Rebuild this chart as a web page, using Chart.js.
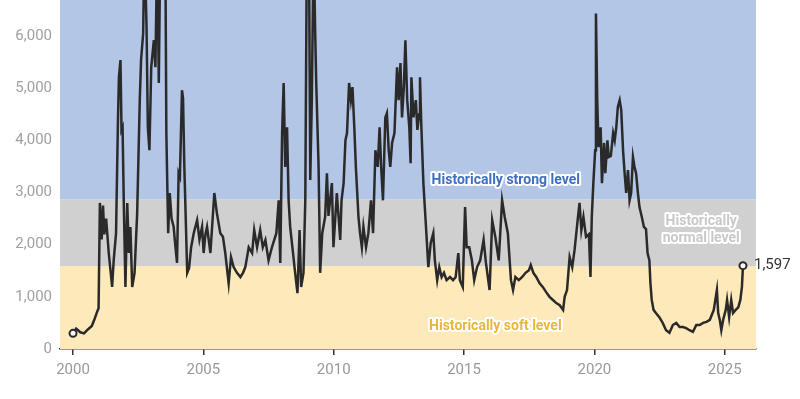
<!DOCTYPE html>
<html>
<head>
<meta charset="utf-8">
<script src="https://cdn.jsdelivr.net/npm/chart.js@4/dist/chart.umd.min.js"></script>
<style>
  html, body { margin: 0; padding: 0; background: #fff; }
  #wrap { width: 800px; height: 399px; }
</style>
</head>
<body>
<div id="wrap"><canvas id="chart"></canvas></div>
<script>
// Dados da série (ano decimal / valor do índice)
const years = [
  2000.00, 2000.12, 2000.28, 2000.42, 2000.58, 2000.72, 2000.83, 2000.93, 2000.98,
  2001.03, 2001.10, 2001.15, 2001.20, 2001.27, 2001.37, 2001.50, 2001.56, 2001.65, 2001.72,
  2001.76, 2001.82, 2001.86, 2001.90, 2001.95, 2002.01, 2002.08, 2002.14, 2002.20, 2002.27,
  2002.36, 2002.46, 2002.56, 2002.61, 2002.69, 2002.74, 2002.82, 2002.87, 2002.93, 2003.00,
  2003.10, 2003.16, 2003.23, 2003.29, 2003.35, 2003.45, 2003.54, 2003.58, 2003.65, 2003.71,
  2003.78, 2003.86, 2003.92, 2003.99, 2004.05, 2004.10, 2004.18, 2004.22, 2004.27, 2004.38,
  2004.45, 2004.53, 2004.63, 2004.76, 2004.85, 2004.95, 2005.01, 2005.08, 2005.14, 2005.27,
  2005.42, 2005.52, 2005.65, 2005.75, 2005.84, 2005.97, 2006.06, 2006.16, 2006.29, 2006.42,
  2006.52, 2006.61, 2006.74, 2006.87, 2006.95, 2007.06, 2007.18, 2007.28, 2007.38, 2007.50,
  2007.63, 2007.80, 2007.89, 2007.95, 2008.02, 2008.08, 2008.14, 2008.21, 2008.27, 2008.33,
  2008.44, 2008.52, 2008.61, 2008.69, 2008.75, 2008.84, 2008.91, 2008.97, 2009.05, 2009.10,
  2009.16, 2009.23, 2009.29, 2009.33, 2009.42, 2009.48, 2009.56, 2009.67, 2009.74, 2009.80,
  2009.93, 2009.99, 2010.12, 2010.25, 2010.30, 2010.38, 2010.45, 2010.51, 2010.59, 2010.66,
  2010.72, 2010.79, 2010.85, 2010.95, 2011.01, 2011.08, 2011.14, 2011.24, 2011.33, 2011.43,
  2011.51, 2011.60, 2011.69, 2011.76, 2011.82, 2011.89, 2011.98, 2012.04, 2012.11, 2012.17,
  2012.24, 2012.33, 2012.43, 2012.49, 2012.56, 2012.62, 2012.69, 2012.75, 2012.82, 2012.90,
  2012.95, 2012.98, 2013.06, 2013.15, 2013.21, 2013.28, 2013.31, 2013.36, 2013.44, 2013.54,
  2013.63, 2013.72, 2013.82, 2013.88, 2013.97, 2014.05, 2014.14, 2014.23, 2014.33, 2014.46,
  2014.58, 2014.68, 2014.78, 2014.84, 2014.95, 2015.04, 2015.10, 2015.20, 2015.30, 2015.39,
  2015.50, 2015.62, 2015.75, 2015.84, 2015.98, 2016.08, 2016.20, 2016.33, 2016.46, 2016.56,
  2016.68, 2016.80, 2016.88, 2016.97, 2017.10, 2017.23, 2017.36, 2017.49, 2017.56, 2017.66,
  2017.77, 2017.90, 2018.02, 2018.15, 2018.28, 2018.41, 2018.54, 2018.67, 2018.80, 2018.86,
  2018.95, 2019.05, 2019.15, 2019.24, 2019.37, 2019.43, 2019.50, 2019.58, 2019.68, 2019.79,
  2019.85, 2019.90, 2019.96, 2020.03, 2020.06, 2020.11, 2020.16, 2020.24, 2020.29, 2020.37,
  2020.42, 2020.50, 2020.55, 2020.63, 2020.72, 2020.78, 2020.84, 2020.90, 2020.97, 2021.03,
  2021.10, 2021.16, 2021.22, 2021.29, 2021.35, 2021.41, 2021.48, 2021.54, 2021.60, 2021.67,
  2021.73, 2021.82, 2021.90, 2021.98, 2022.04, 2022.11, 2022.15, 2022.20, 2022.27, 2022.36,
  2022.49, 2022.62, 2022.75, 2022.88, 2023.01, 2023.14, 2023.27, 2023.40, 2023.52, 2023.65,
  2023.78, 2023.91, 2024.04, 2024.17, 2024.30, 2024.43, 2024.58, 2024.64, 2024.70, 2024.75,
  2024.81, 2024.87, 2024.94, 2025.04, 2025.09, 2025.17, 2025.25, 2025.32, 2025.42, 2025.52,
  2025.60, 2025.66, 2025.70
];
const values = [
  300, 390, 320, 300, 380, 440, 580, 720, 780,
  2800, 2100, 2750, 2200, 2500, 1840, 1190, 1700, 2220, 4300,
  5210, 5540, 4200, 4250, 2720, 1190, 2800, 1840, 2340, 1190,
  1460, 2600, 4770, 5540, 6050, 7800, 6170, 4250, 3810, 5400,
  5920, 5400, 7800, 5100, 7800, 7800, 7800, 4140, 2220, 2990,
  2500, 2340, 2000, 1650, 3370, 3300, 4960, 4800, 3490, 1460,
  1550, 1950, 2220, 2470, 2100, 2340, 1840, 2200, 2340, 1840,
  2990, 2600, 2220, 2150, 1840, 1260, 1760, 1570, 1460, 1380,
  1460, 1570, 1950, 1840, 2280, 1950, 2280, 1950, 2090, 1700,
  1950, 2220, 2850, 1650, 4140, 5100, 3490, 4250, 2850, 2340,
  1840, 1460, 1070, 2280, 1190, 1460, 2850, 7800, 7800, 3240,
  4770, 7800, 6050, 5100, 3490, 1460, 2220, 2530, 3370, 2550,
  3180, 1950, 2990, 2090, 2850, 3180, 4000, 4140, 5100, 4770,
  5020, 4250, 3490, 2530, 2220, 1950, 2340, 1950, 2220, 2850,
  2220, 3810, 3490, 4250, 3490, 2850, 4440, 4520, 3810, 3490,
  3950, 4140, 5400, 4770, 5480, 4440, 5020, 5920, 4770, 4250,
  3560, 5210, 4440, 4770, 4200, 4500, 5210, 4300, 3180, 2340,
  1570, 2030, 2220, 1700, 1320, 1570, 1380, 1460, 1320, 1380,
  1320, 1380, 1840, 1320, 1190, 2720, 1950, 1950, 1700, 1320,
  1570, 1700, 2090, 1650, 1130, 2470, 2150, 1700, 2850, 2530,
  2220, 1320, 1130, 1380, 1320, 1380, 1460, 1510, 1610, 1460,
  1380, 1260, 1190, 1090, 1000, 940, 880, 840, 750, 1000,
  1130, 1760, 1570, 1900, 2530, 2800, 2280, 2530, 2150, 2200,
  1380, 2530, 3180, 3810, 6430, 4770, 3870, 4250, 3180, 3950,
  3370, 4000, 3680, 3700, 4140, 4000, 4250, 4640, 4770, 4580,
  3810, 3370, 2990, 3430, 2850, 2990, 3680, 3490, 3370, 2990,
  2720, 2530, 2340, 2300, 1840, 1700, 1260, 940, 750, 690,
  610, 500, 360, 310, 460, 500, 420, 420, 400, 360,
  330, 460, 460, 500, 520, 560, 750, 940, 1130, 690,
  560, 360, 560, 750, 940, 610, 940, 690, 750, 800,
  940, 1190, 1597
];

// Faixas históricas (limites em valor do índice)
const bandNames = ['Historically soft level', 'Historically normal level', 'Historically strong level'];
const bandLows = [0, 1590, 2870];
const bandHighs = [1590, 2870, 6690];

// Eixos
const xTicks = [2000, 2005, 2010, 2015, 2020, 2025];
const yTicks = [0, 1000, 2000, 3000, 4000, 5000, 6000];

const bandColors = ['#fde9b9', '#d0d0d0', '#b3c6e6'];
const lineColor = '#2a2a2a';

// Plugin: desenhar faixas de fundo
const bandsPlugin = {
    id: 'bands',
    beforeDatasetsDraw(chart) {
        const { ctx, chartArea, scales } = chart;
        ctx.save();
        bandLows.forEach((lo, i) => {
            const yTop = Math.max(scales.y.getPixelForValue(bandHighs[i]), chartArea.top);
            const yBot = scales.y.getPixelForValue(lo);
            ctx.fillStyle = bandColors[i];
            ctx.fillRect(chartArea.left, yTop, chartArea.right - chartArea.left, yBot - yTop);
        });
        ctx.restore();
    }
};

// Texto com contorno branco
function haloText(ctx, text, x, y, color) {
    ctx.lineJoin = 'round';
    ctx.lineWidth = 4;
    ctx.strokeStyle = '#ffffff';
    ctx.strokeText(text, x, y);
    ctx.fillStyle = color;
    ctx.fillText(text, x, y);
}

// Plugin: rótulos das faixas e último valor
const labelsPlugin = {
    id: 'labels',
    afterDatasetsDraw(chart) {
        const { ctx, scales } = chart;
        const x = scales.x, y = scales.y;
        ctx.save();
        ctx.textAlign = 'center';
        ctx.textBaseline = 'middle';
        ctx.font = 'bold 14px Roboto';
        haloText(ctx, bandNames[2], x.getPixelForValue(2016.6), y.getPixelForValue(3238), '#3f6fc1');
        haloText(ctx, bandNames[0], x.getPixelForValue(2016.2), y.getPixelForValue(440), '#e9b63d');
        haloText(ctx, 'Historically', x.getPixelForValue(2024.1), y.getPixelForValue(2440), '#c9c9c9');
        haloText(ctx, 'normal level', x.getPixelForValue(2024.1), y.getPixelForValue(2125), '#c9c9c9');

        const last = values.length - 1;
        ctx.textAlign = 'left';
        ctx.font = '15px Roboto';
        ctx.fillStyle = '#333333';
        ctx.fillText(values[last].toLocaleString('en-US'),
            x.getPixelForValue(years[last]) + 11, y.getPixelForValue(values[last]));
        ctx.restore();
    }
};

const points = years.map((yr, i) => ({ x: yr, y: values[i] }));
const lastIndex = points.length - 1;

new Chart(document.getElementById('chart'), {
    type: 'line',
    data: {
        datasets: [{
            data: points,
            borderColor: lineColor,
            borderWidth: 2.5,
            tension: 0,
            pointRadius: ctx => (ctx.dataIndex === 0 || ctx.dataIndex === lastIndex) ? 3.5 : 0,
            pointBackgroundColor: '#ffffff',
            pointBorderColor: lineColor,
            pointBorderWidth: 2,
            clip: false
        }]
    },
    options: {
        responsive: true,
        maintainAspectRatio: false,
        animation: false,
        layout: { autoPadding: false, padding: { top: 0, right: 44, left: 0, bottom: 0 } },
        plugins: {
            legend: { display: false },
            tooltip: { enabled: false }
        },
        scales: {
            x: {
                type: 'linear',
                min: 1999.5,
                max: 2026.2,
                afterBuildTicks: s => { s.ticks = xTicks.map(v => ({ value: v })); },
                afterFit: s => { s.height = 50; s.paddingLeft = 0; s.paddingRight = 0; },
                grid: {
                    drawOnChartArea: false,
                    drawTicks: true,
                    tickLength: 6,
                    color: '#333333',
                    lineWidth: 1.5
                },
                border: { display: true, color: '#333333', width: 1.5 },
                ticks: {
                    padding: 6,
                    color: '#999999',
                    font: { family: 'Roboto', size: 15 },
                    callback: v => String(v),
                    maxRotation: 0
                }
            },
            y: {
                type: 'linear',
                min: 0,
                max: 6690,
                afterBuildTicks: s => { s.ticks = yTicks.map(v => ({ value: v })); },
                afterFit: s => { s.width = 60; s.paddingTop = 0; s.paddingBottom = 0; },
                grid: { display: false, drawTicks: false },
                border: { display: false },
                ticks: {
                    padding: 8,
                    color: '#a0a0a0',
                    font: { family: 'Roboto', size: 15 },
                    callback: v => v.toLocaleString('en-US')
                }
            }
        }
    },
    plugins: [bandsPlugin, labelsPlugin]
});
</script>
</body>
</html>
